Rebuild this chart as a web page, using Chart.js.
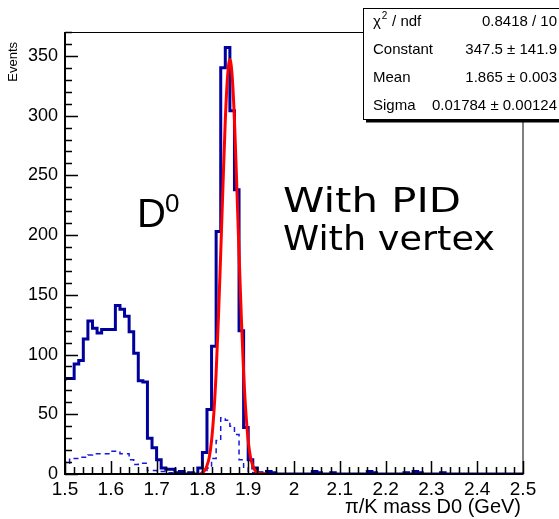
<!DOCTYPE html>
<html>
<head>
<meta charset="utf-8">
<script src="https://cdn.jsdelivr.net/npm/chart.js@4.4.0/dist/chart.umd.min.js"></script>
<style>
  html, body { margin: 0; padding: 0; background: #fff; }
  #wrap { width: 559px; height: 519px; }
</style>
</head>
<body>
<div id="wrap"><canvas id="grafico" width="559" height="519"></canvas></div>
<script>
// Histograma pi/K mass D0: 100 bins de 0.01 entre 1.5 y 2.5
const xMin = 1.5;
const binWidth = 0.01;

// Con PID y con vertice (linea azul continua)
const eventosVertice = [
  78, 80, 80, 92, 95, 113, 128, 122, 118, 121,
  121, 121, 141, 138, 132, 119, 101, 78, 77, 30,
  22, 12, 5, 4, 4, 1, 2, 0, 1, 0,
  5, 18, 54, 107, 203, 340, 357, 304, 238, 120,
  39, 12, 5, 1, 0, 2, 1, 0, 0, 0,
  0, 0, 0, 0, 0, 2, 1, 0, 0, 1,
  0, 0, 0, 0, 0, 0, 0, 2, 1, 0,
  0, 0, 0, 0, 0, 1, 0, 2, 1, 0,
  0, 0, 0, 1, 0, 0, 0, 0, 0, 0,
  0, 0, 0, 0, 0, 0, 0, 0, 0, 0
];

// Linea azul discontinua
const eventosSinVertice = [
  13, 9, 13, 13, 14, 14, 16, 17, 17, 17,
  17, 19, 19, 17, 17, 12, 8, 9, 9, 3,
  3, 2, 2, 1, 1, 0, 1, 0, 0, 0,
  0, 2, 5, 13, 28, 47, 45, 40, 33, 12,
  5, 2, 1, 0, 0, 0, 0, 0, 0, 0,
  0, 0, 0, 0, 0, 0, 0, 0, 0, 0,
  0, 0, 0, 0, 0, 0, 0, 0, 0, 0,
  0, 0, 0, 0, 0, 0, 0, 0, 0, 0,
  0, 0, 0, 0, 0, 0, 0, 0, 0, 0,
  0, 0, 0, 0, 0, 0, 0, 0, 0, 0
];

// Curva del ajuste (roja)
const ajusteX = [1.795, 1.800, 1.805, 1.810, 1.815, 1.820, 1.825, 1.830, 1.835, 1.840,
  1.845, 1.850, 1.855, 1.860, 1.865, 1.870, 1.875, 1.880, 1.885, 1.890,
  1.895, 1.900, 1.905, 1.910, 1.915, 1.920, 1.925, 1.930, 1.935, 1.940];
const ajusteY = [0, 1, 3, 7, 14, 28, 51, 85, 131, 185,
  242, 296, 333, 347, 333, 296, 242, 185, 131, 85,
  51, 28, 14, 7, 3, 1, 0.5, 0.2, 0, 0];

// Ejes
const xTicks = [1.5, 1.6, 1.7, 1.8, 1.9, 2.0, 2.1, 2.2, 2.3, 2.4, 2.5];
const xTickLabels = ['1.5', '1.6', '1.7', '1.8', '1.9', '2', '2.1', '2.2', '2.3', '2.4', '2.5'];
const yTicks = [0, 50, 100, 150, 200, 250, 300, 350];
const yTickLabels = ['0', '50', '100', '150', '200', '250', '300', '350'];

// Caja de estadisticas
const statsNombres = ['χ', 'Constant', 'Mean', 'Sigma'];
const statsValores = ['0.8418 / 10', '347.5 ± 141.9', '1.865 ± 0.003', '0.01784 ± 0.00124'];

// Pasar bins a puntos escalonados
function aEscalones(valores) {
  const pts = valores.map((v, i) => ({ x: xMin + i * binWidth, y: v }));
  pts.push({ x: xMin + valores.length * binWidth, y: valores[valores.length - 1] });
  return pts;
}

const fuente = '"Liberation Sans", Arial, Helvetica, sans-serif';

// Texto estirado a un ancho dado
function textoAncho(ctx, txt, x, y, ancho) {
  const w = ctx.measureText(txt).width;
  ctx.save();
  ctx.translate(x, y);
  ctx.scale(ancho / w, 1);
  ctx.fillText(txt, 0, 0);
  ctx.restore();
}

// Marco estilo ROOT con ticks hacia dentro y textos
const marcoRoot = {
  id: 'marcoRoot',
  afterDatasetsDraw(chart) {
    const { ctx, chartArea: a, scales } = chart;
    const x = scales.x, y = scales.y;
    ctx.save();
    ctx.strokeStyle = '#000';
    ctx.lineWidth = 1;
    ctx.strokeRect(a.left + 0.5, a.top + 0.5, a.right - a.left - 0.5, a.bottom - a.top);
    ctx.lineWidth = 2;
    ctx.beginPath();
    ctx.moveTo(a.left, a.top);
    ctx.lineTo(a.left, a.bottom);
    ctx.lineTo(a.right, a.bottom);
    ctx.stroke();

    ctx.lineWidth = 1.5;
    ctx.beginPath();
    for (let k = 0; k <= 50; k++) {
      const px = Math.round(x.getPixelForValue(1.5 + k * 0.02)) + 0.5;
      const len = (k % 5 === 0) ? 13 : 7;
      ctx.moveTo(px, a.bottom);
      ctx.lineTo(px, a.bottom - len);
    }
    for (let k = 0; k <= 37; k++) {
      const py = Math.round(y.getPixelForValue(k * 10)) + 0.5;
      const len = (k % 5 === 0) ? 13 : 7;
      ctx.moveTo(a.left, py);
      ctx.lineTo(a.left + len, py);
    }
    ctx.stroke();
    ctx.restore();
  },
  afterDraw(chart) {
    const { ctx } = chart;
    ctx.save();
    ctx.fillStyle = '#000';

    // Titulo eje Y
    ctx.save();
    ctx.translate(13, 42);
    ctx.rotate(-Math.PI / 2);
    ctx.font = '13px ' + fuente;
    ctx.textAlign = 'right';
    ctx.textBaseline = 'middle';
    ctx.fillText('Events', 0, 0);
    ctx.restore();

    // Titulo eje X
    ctx.font = '20px ' + fuente;
    ctx.textAlign = 'right';
    ctx.textBaseline = 'alphabetic';
    ctx.fillText('π/K mass D0 (GeV)', 521, 513);

    // D0
    ctx.textAlign = 'left';
    ctx.font = '40px ' + fuente;
    ctx.fillText('D', 137, 227);
    ctx.font = '26px ' + fuente;
    ctx.fillText('0', 165, 212);

    // With PID / With vertex
    ctx.font = '34px "DejaVu Sans", sans-serif';
    textoAncho(ctx, 'With PID', 283, 212, 178);
    textoAncho(ctx, 'With vertex', 283, 250, 212);

    // Caja de estadisticas
    const bx = 363, by = 8, bw = 210, bh = 111;
    ctx.fillStyle = '#fff';
    ctx.fillRect(bx, by, bw, bh);
    ctx.strokeStyle = '#000';
    ctx.lineWidth = 1;
    ctx.strokeRect(bx + 0.5, by + 0.5, bw, bh);
    ctx.lineWidth = 3;
    ctx.beginPath();
    ctx.moveTo(bx + 3, by + bh + 2);
    ctx.lineTo(bx + bw, by + bh + 2);
    ctx.stroke();

    ctx.fillStyle = '#000';
    ctx.textBaseline = 'middle';
    const filas = [22, 50, 78, 106];
    statsNombres.forEach((n, i) => {
      ctx.textAlign = 'left';
      ctx.font = '15px ' + fuente;
      if (i === 0) {
        ctx.fillText(n, 373, filas[i]);
        const w = ctx.measureText(n).width;
        ctx.font = '10px ' + fuente;
        ctx.fillText('2', 373 + w + 1, filas[i] - 6);
        ctx.font = '15px ' + fuente;
        ctx.fillText(' / ndf', 373 + w + 7, filas[i]);
      } else {
        ctx.fillText(n, 373, filas[i]);
      }
      ctx.textAlign = 'right';
      ctx.fillText(statsValores[i], 557, filas[i]);
    });
    ctx.restore();
  }
};

var ctxMasa = document.getElementById('grafico').getContext('2d');
var graficoMasa = new Chart(ctxMasa, {
  type: 'line',
  data: {
    datasets: [{
      label: 'Ajuste',
      data: ajusteX.map((vx, i) => ({ x: vx, y: ajusteY[i] })),
      borderColor: '#ff0000',
      borderWidth: 3,
      pointRadius: 0,
      fill: false,
      tension: 0.4,
      cubicInterpolationMode: 'monotone',
      order: 0
    }, {
      label: 'With vertex',
      data: aEscalones(eventosVertice),
      borderColor: '#00009c',
      borderWidth: 3,
      pointRadius: 0,
      fill: false,
      stepped: 'after',
      order: 1
    }, {
      label: 'Without vertex',
      data: aEscalones(eventosSinVertice),
      borderColor: '#1818dd',
      borderWidth: 1.5,
      borderDash: [5, 4],
      pointRadius: 0,
      fill: false,
      stepped: 'after',
      order: 2
    }]
  },
  options: {
    responsive: false,
    animation: false,
    devicePixelRatio: 1,
    layout: { padding: { top: 32, right: 36, left: 0, bottom: 0 } },
    plugins: { legend: { display: false }, tooltip: { enabled: false } },
    scales: {
      x: {
        type: 'linear',
        min: 1.5,
        max: 2.5,
        grid: { display: false, drawTicks: false },
        border: { display: false },
        afterBuildTicks: s => { s.ticks = xTicks.map(v => ({ value: v })); },
        afterFit: s => { s.height = 45; },
        ticks: {
          autoSkip: false,
          maxRotation: 0,
          padding: 4,
          color: '#000',
          font: { family: fuente, size: 19 },
          callback: (v, i) => xTickLabels[i]
        }
      },
      y: {
        min: 0,
        max: 370,
        grid: { display: false, drawTicks: false },
        border: { display: false },
        afterBuildTicks: s => { s.ticks = yTicks.map(v => ({ value: v })); },
        afterFit: s => { s.width = 65; },
        ticks: {
          padding: 7,
          color: '#000',
          font: { family: fuente, size: 18 },
          callback: (v, i) => yTickLabels[i]
        }
      }
    }
  },
  plugins: [marcoRoot]
});
</script>
</body>
</html>
